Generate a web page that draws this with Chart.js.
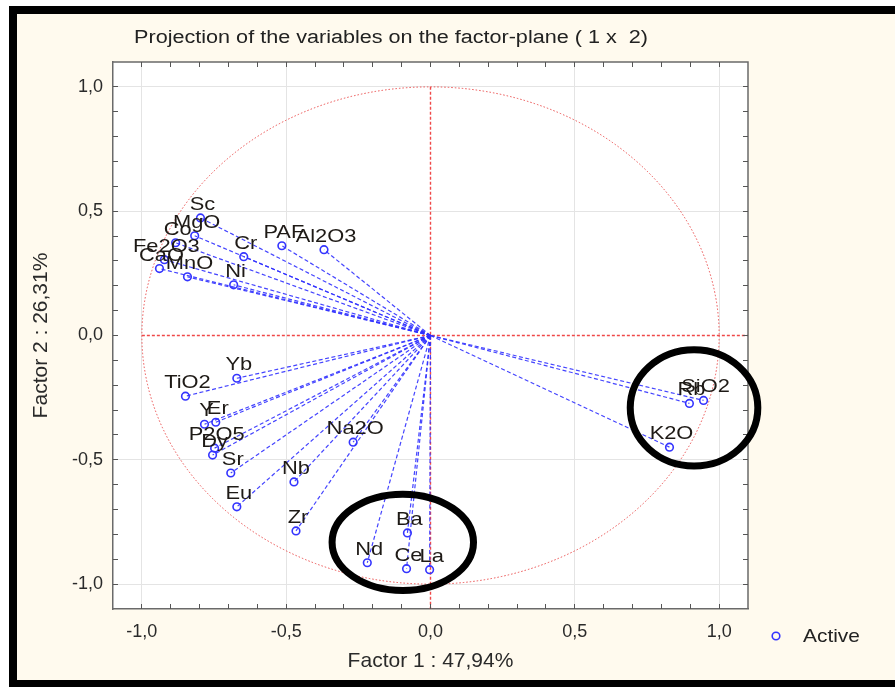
<!DOCTYPE html>
<html>
<head>
<meta charset="utf-8">
<script src="https://cdn.jsdelivr.net/npm/chart.js@4.4.0/dist/chart.umd.min.js"></script>
<style>
  html, body { margin: 0; padding: 0; background: #ffffff; }
  #wrap { width: 895px; height: 687px; position: relative; }
</style>
</head>
<body>
<div id="wrap"><canvas id="c" width="895" height="687"></canvas></div>
<script>
// Variable loadings on the first two factors
const variables = ['Sc','MgO','Co','Fe2O3','CaO','MnO','Cr','Ni','PAF','Al2O3',
                   'Yb','TiO2','Y','Er','P2O5','Dy','Sr','Eu','Nb','Na2O',
                   'Zr','Ba','Nd','Ce','La','Rb','SiO2','K2O'];
const factor1 = [-0.797,-0.817,-0.883,-0.922,-0.939,-0.842,-0.647,-0.682,-0.515,-0.369,
                 -0.671,-0.849,-0.783,-0.744,-0.748,-0.755,-0.692,-0.671,-0.473,-0.268,
                 -0.466,-0.080,-0.219,-0.083,-0.003, 0.897, 0.946, 0.828];
const factor2 = [ 0.473, 0.401, 0.373, 0.305, 0.269, 0.236, 0.317, 0.204, 0.361, 0.345,
                 -0.172,-0.244,-0.357,-0.349,-0.453,-0.481,-0.553,-0.689,-0.589,-0.429,
                 -0.786,-0.794,-0.914,-0.938,-0.942,-0.273,-0.261,-0.449];
const tickValues = [-1.0, -0.5, 0.0, 0.5, 1.0];
const chartTitle = 'Projection of the variables on the factor-plane ( 1 x  2)';
const xTitle = 'Factor 1 : 47,94%';
const yTitle = 'Factor 2 : 26,31%';
const seriesName = 'Active';

// Two groups of variables ringed on the plane (centre and radii in factor units)
const groupCx = [0.913, -0.096];
const groupCy = [-0.291, -0.832];
const groupRx = [0.221, 0.245];
const groupRy = [0.234, 0.194];

const W = 895, H = 687;
const FONT = "'Liberation Sans', Arial, sans-serif";
const BLUE = '#3434ff';
const fmt = v => Number(v).toFixed(1).replace('.', ',');
const snap = p => Math.round(p - 0.5) + 0.5;

// text drawn a little wider than the plain face
function wideText(ctx, text, x, y, size, sx, align) {
  ctx.save();
  ctx.font = size + 'px ' + FONT;
  ctx.textAlign = align;
  ctx.translate(x, y);
  ctx.scale(sx, 1);
  ctx.fillText(text, 0, 0);
  ctx.restore();
}

const points = variables.map((n, i) => ({ x: factor1[i], y: factor2[i] }));

const datasets = [{
  label: seriesName,
  data: points,
  showLine: false,
  pointStyle: 'circle',
  pointRadius: 3.8,
  pointBorderWidth: 1.6,
  pointBorderColor: BLUE,
  pointBackgroundColor: 'rgba(255,255,255,0)',
  order: 0
}];
variables.forEach((n, i) => {
  datasets.push({
    label: n,
    data: [{ x: 0, y: 0 }, { x: factor1[i], y: factor2[i] }],
    showLine: true,
    borderColor: 'rgba(48,48,255,0.9)',
    borderWidth: 1.2,
    borderDash: [4, 2.5],
    pointRadius: 0,
    order: 1
  });
});

const decor = {
  id: 'decor',
  beforeDraw(chart) {
    const { ctx, chartArea: a } = chart;
    ctx.save();
    ctx.fillStyle = '#ffffff';
    ctx.fillRect(0, 0, W, H);
    ctx.fillStyle = '#fffaee';
    ctx.fillRect(13, 10, W, H);
    ctx.fillStyle = '#ffffff';
    ctx.fillRect(a.left, a.top, a.right - a.left, a.bottom - a.top);
    // title
    ctx.fillStyle = '#222222';
    ctx.textBaseline = 'middle';
    wideText(ctx, chartTitle, 391, 38, 18, 1.2, 'center');
    ctx.restore();
  },
  beforeDatasetsDraw(chart) {
    const { ctx, chartArea: a, scales: { x, y } } = chart;
    ctx.save();
    const x0 = x.getPixelForValue(0), y0 = y.getPixelForValue(0);
    // zero axes, dashed red
    ctx.strokeStyle = '#f04848';
    ctx.lineWidth = 1.4;
    ctx.setLineDash([3, 2]);
    ctx.beginPath();
    ctx.moveTo(x.getPixelForValue(-1), y0); ctx.lineTo(a.right, y0);
    ctx.moveTo(x0, y.getPixelForValue(1)); ctx.lineTo(x0, a.bottom);
    ctx.stroke();
    // unit circle, dotted red
    ctx.lineWidth = 1;
    ctx.strokeStyle = '#ec5050';
    ctx.setLineDash([1.5, 2]);
    const rx = x.getPixelForValue(1) - x0, ry = y0 - y.getPixelForValue(1);
    ctx.beginPath();
    ctx.ellipse(x0, y0, rx, ry, 0, 0, Math.PI * 2);
    ctx.stroke();
    ctx.setLineDash([]);
    // top and right frame of the plot
    ctx.strokeStyle = '#6a6a6a';
    ctx.lineWidth = 1.5;
    ctx.beginPath();
    ctx.moveTo(a.left, a.top); ctx.lineTo(a.right, a.top); ctx.lineTo(a.right, a.bottom);
    ctx.stroke();
    // inner minor ticks every 0.1
    ctx.strokeStyle = '#555555';
    ctx.lineWidth = 1;
    ctx.beginPath();
    for (let k = -10; k <= 10; k++) {
      const v = k / 10;
      const len = 5;
      const px = snap(x.getPixelForValue(v)), py = snap(y.getPixelForValue(v));
      ctx.moveTo(px, a.bottom); ctx.lineTo(px, a.bottom - len);
      ctx.moveTo(px, a.top); ctx.lineTo(px, a.top + len);
      ctx.moveTo(a.left, py); ctx.lineTo(a.left + len, py);
      ctx.moveTo(a.right, py); ctx.lineTo(a.right - len, py);
    }
    ctx.stroke();
    ctx.restore();
  },
  afterDatasetsDraw(chart) {
    const { ctx, scales: { x, y } } = chart;
    const meta = chart.getDatasetMeta(0);
    ctx.save();
    // variable names above their points
    ctx.fillStyle = '#1e1a16';
    ctx.textBaseline = 'alphabetic';
    meta.data.forEach((el, i) => {
      wideText(ctx, variables[i], el.x + 2, el.y - 8, 19, 1.15, 'center');
    });
    // ringed groups
    ctx.strokeStyle = '#000000';
    ctx.lineWidth = 7;
    groupCx.forEach((cx, i) => {
      const px = x.getPixelForValue(cx), py = y.getPixelForValue(groupCy[i]);
      const rx = x.getPixelForValue(cx + groupRx[i]) - px;
      const ry = py - y.getPixelForValue(groupCy[i] + groupRy[i]);
      ctx.beginPath();
      ctx.ellipse(px, py, rx, ry, 0, 0, Math.PI * 2);
      ctx.stroke();
    });
    // legend
    ctx.lineWidth = 1.6;
    ctx.strokeStyle = BLUE;
    ctx.beginPath();
    ctx.arc(776, 636, 3.8, 0, Math.PI * 2);
    ctx.stroke();
    ctx.fillStyle = '#222222';
    ctx.textBaseline = 'middle';
    wideText(ctx, seriesName, 803, 637, 19, 1.1, 'left');
    ctx.restore();
  },
  afterDraw(chart) {
    const ctx = chart.ctx;
    ctx.save();
    ctx.strokeStyle = '#000000';
    ctx.lineWidth = 8;
    ctx.strokeRect(13, 10, W + 20, 674);
    ctx.restore();
  }
};

const axisCommon = (title, fit, titlePad) => ({
  type: 'linear',
  min: -1.1,
  max: 1.1,
  afterBuildTicks: s => { s.ticks = tickValues.map(v => ({ value: v })); },
  afterFit: fit,
  grid: {
    color: c => (c.tick && Math.abs(c.tick.value) < 1e-9) ? 'rgba(0,0,0,0)' : '#e4e4e4',
    lineWidth: 1,
    drawTicks: false
  },
  border: { color: '#6a6a6a', width: 1.5 },
  ticks: {
    color: '#2a2a2a',
    font: { family: FONT, size: 18 },
    callback: v => fmt(v)
  },
  title: {
    display: true,
    text: title,
    color: '#2a2a2a',
    font: { family: FONT, size: 21 },
    padding: titlePad
  }
});

const xAxis = axisCommon(xTitle, s => { s.height = 78; }, { top: 0, bottom: 13 });
xAxis.ticks.padding = 12;
const yAxis = axisCommon(yTitle, s => { s.width = 113; }, { top: 29, bottom: 0 });
yAxis.ticks.padding = 10;

new Chart(document.getElementById('c'), {
  type: 'scatter',
  data: { datasets },
  options: {
    responsive: false,
    devicePixelRatio: 1,
    animation: false,
    layout: { padding: { top: 62, right: 147, left: 0, bottom: 0 } },
    plugins: { legend: { display: false }, tooltip: { enabled: false }, title: { display: false } },
    scales: { x: xAxis, y: yAxis }
  },
  plugins: [decor]
});
</script>
</body>
</html>
